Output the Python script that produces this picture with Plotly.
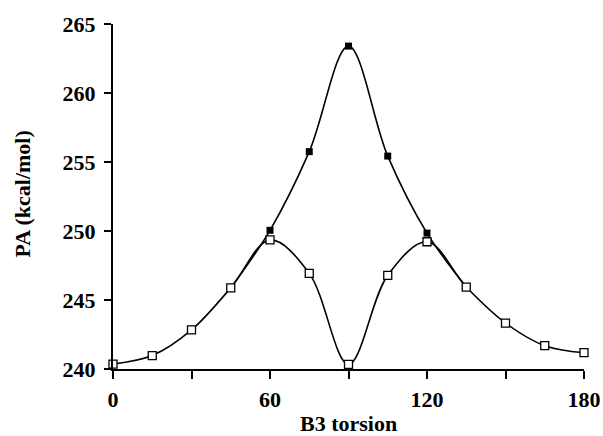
import plotly.graph_objects as go

torsion_open = [0, 15, 30, 45, 60, 75, 90, 105, 120, 135, 150, 165, 180]
pa_open = [240.36, 240.97, 242.83, 245.88, 249.35, 246.93, 240.34, 246.79, 249.22, 245.94, 243.33, 241.69, 241.18]

torsion_filled = [45, 60, 75, 90, 105, 120, 135]
pa_filled = [245.88, 250.05, 255.75, 263.4, 255.43, 249.85, 245.94]

x_tick_vals = [0, 30, 60, 90, 120, 150, 180]
x_tick_text = ["0", "", "60", "", "120", "", "180"]
y_tick_vals = [240, 245, 250, 255, 260, 265]

x_title = "B3 torsion"
y_title = "PA (kcal/mol)"

font_family = "Liberation Serif"

fig = go.Figure()
fig.add_trace(go.Scatter(
    x=torsion_filled, y=pa_filled, mode="lines+markers",
    line=dict(color="black", width=1.6, shape="spline", smoothing=1),
    marker=dict(symbol="square", size=7, color="black"),
    cliponaxis=False, showlegend=False,
))
fig.add_trace(go.Scatter(
    x=torsion_open, y=pa_open, mode="lines+markers",
    line=dict(color="black", width=1.6, shape="spline", smoothing=1),
    marker=dict(symbol="square", size=8, color="white", line=dict(color="black", width=1.3)),
    cliponaxis=False, showlegend=False,
))

fig.update_layout(
    width=603, height=436,
    margin=dict(l=113, r=19, t=24, b=67),
    plot_bgcolor="white", paper_bgcolor="white",
    font=dict(family=font_family, size=22, color="black"),
    xaxis=dict(
        range=[0, 180], tickvals=x_tick_vals, ticktext=x_tick_text, automargin=False,
        showgrid=False, zeroline=False, showline=True, linecolor="black", linewidth=2,
        ticks="outside", ticklen=8, tickwidth=2, tickcolor="black", ticklabelstandoff=2,
        tickfont=dict(family=font_family, size=22, color="black", weight="bold"),
    ),
    yaxis=dict(
        range=[240, 265], tickvals=y_tick_vals, automargin=False,
        showgrid=False, zeroline=False, showline=True, linecolor="black", linewidth=2,
        ticks="outside", ticklen=7, tickwidth=2, tickcolor="black", ticklabelstandoff=4,
        tickfont=dict(family=font_family, size=22, color="black", weight="bold"),
    ),
    annotations=[
        dict(text="<b>" + x_title + "</b>", xref="paper", yref="paper", x=0.5, y=0,
             xanchor="center", yanchor="middle", yshift=-54, showarrow=False,
             font=dict(family=font_family, size=22, color="black")),
        dict(text="<b>" + y_title + "</b>", xref="paper", yref="paper", x=0, y=0.5,
             xanchor="center", yanchor="middle", xshift=-91, yshift=2, textangle=-90,
             showarrow=False, font=dict(family=font_family, size=22, color="black")),
    ],
)

fig.write_html("out.html")
